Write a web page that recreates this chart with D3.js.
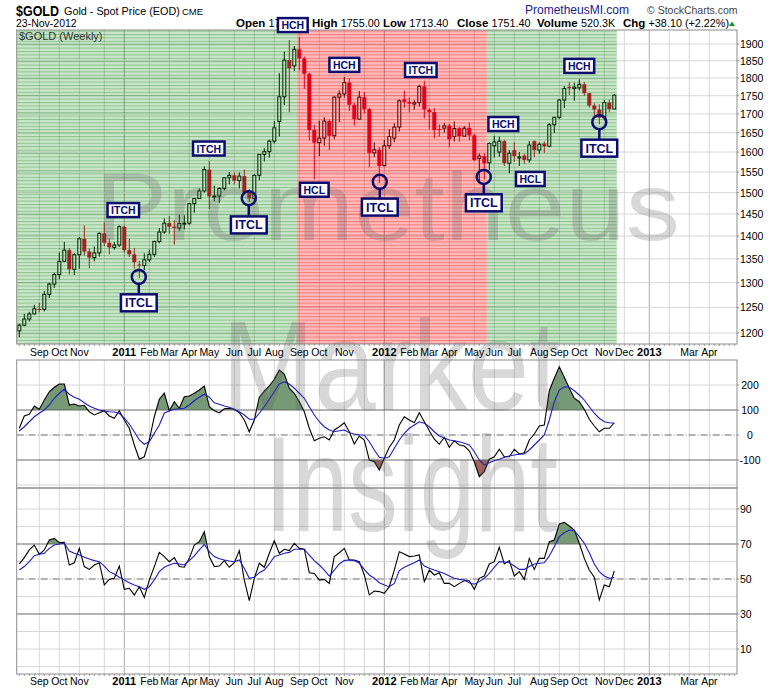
<!DOCTYPE html>
<html>
<head>
<meta charset="utf-8">
<script src="https://cdn.jsdelivr.net/npm/d3@7"></script>
<style>
  body { margin: 0; background: #fff; }
  svg { display: block; }
  text { font-family: "Liberation Sans", Arial, sans-serif; }
</style>
</head>
<body>
<svg id="chart" width="780" height="690"></svg>
<script>
// Weekly bars, first bar is the week ending Friday 13-Aug-2010
const weekStart = "2010-08-13";

const opens = [1204,1215,1227,1237,1247,1246,1276,1297,1317,1345,
  1369,1328,1359,1394,1366,1353,1363,1406,1385,1375,
  1380,1421,1369,1360,1338,1336,1348,1360,1388,1409,
  1429,1421,1418,1428,1429,1474,1486,1504,1556,1491,
  1492,1510,1536,1542,1529,1540,1500,1486,1542,1594,
  1601,1628,1680,1747,1852,1835,1884,1857,1812,1657,
  1624,1636,1681,1642,1746,1755,1787,1725,1686,1746,
  1713,1598,1606,1566,1616,1636,1665,1740,1733,1727,
  1731,1776,1711,1705,1660,1662,1669,1640,1662,1641,
  1663,1643,1584,1590,1573,1616,1600,1628,1572,1605,
  1585,1591,1580,1628,1605,1622,1615,1671,1691,1738,
  1775,1770,1772,1782,1757,1723,1712,1690,1731,1713.4];
const highs = [1218,1237,1241,1255,1259,1283,1300,1321,1364,1387,
  1374,1362,1398,1424,1373,1377,1408,1431,1394,1387,
  1424,1423,1394,1374,1346,1362,1370,1390,1418,1440,
  1445,1436,1448,1447,1476,1488,1510,1564,1577,1517,
  1513,1537,1550,1549,1549,1556,1509,1544,1595,1610,
  1632,1681,1814,1877,1912,1894,1921,1863,1815,1671,
  1682,1691,1685,1748,1765,1803,1799,1731,1763,1760,
  1717,1625,1613,1631,1660,1675,1740,1764,1745,1738,
  1781,1792,1716,1716,1672,1676,1674,1680,1665,1668,
  1677,1647,1597,1597,1625,1642,1640,1632,1605,1625,
  1600,1596,1628,1630,1625,1627,1675,1692,1741,1777,
  1788,1787,1796,1788,1758,1729,1726,1738,1739,1755];
const lows = [1192,1213,1222,1236,1240,1242,1269,1289,1307,1343,
  1317,1316,1329,1357,1330,1345,1355,1378,1360,1370,
  1376,1364,1354,1330,1309,1326,1343,1354,1384,1405,
  1405,1381,1412,1415,1425,1453,1486,1500,1462,1480,
  1476,1505,1520,1520,1510,1495,1478,1483,1530,1576,
  1586,1622,1640,1724,1705,1820,1822,1769,1630,1532,
  1590,1616,1605,1633,1678,1745,1708,1669,1684,1701,
  1562,1587,1523,1564,1608,1625,1653,1717,1705,1712,
  1720,1688,1660,1635,1640,1650,1612,1627,1627,1639,
  1630,1577,1527,1532,1555,1586,1588,1565,1547,1575,
  1565,1570,1573,1587,1596,1598,1612,1649,1687,1716,
  1752,1736,1765,1750,1717,1695,1672,1683,1705,1713.4];
const closes = [1215,1227,1237,1247,1246,1276,1297,1317,1345,1369,
  1328,1359,1394,1366,1353,1363,1406,1385,1375,1380,
  1421,1369,1360,1343,1336,1348,1360,1388,1409,1429,
  1421,1418,1428,1429,1474,1486,1504,1556,1491,1492,
  1510,1536,1542,1529,1540,1500,1486,1542,1594,1601,
  1628,1663,1747,1852,1828,1884,1857,1812,1657,1624,
  1636,1681,1642,1746,1755,1787,1725,1686,1746,1713,
  1598,1606,1565,1616,1640,1665,1736,1733,1728,1731,
  1776,1712,1705,1657,1657,1668,1633,1661,1641,1662,
  1643,1580,1590,1572,1622,1626,1628,1572,1597,1590,
  1588,1580,1618,1605,1620,1615,1671,1691,1738,1770,
  1771,1774,1782,1757,1723,1712,1690,1731,1713.3,1751.4];

// CCI (black) and its moving average (blue)
const cci = [27,76,83,116,103,140,173,191,204,204,
  120,124,116,119,93,80,89,97,76,67,
  97,60,27,-40,-97,-87,-20,73,143,167,
  97,133,107,153,156,167,180,196,113,97,
  89,105,107,103,89,60,13,60,151,176,
  196,223,260,244,187,167,133,93,27,-23,
  -13,-7,-20,20,33,49,13,-36,-4,-20,
  -100,-107,-140,-93,-49,-20,40,73,60,49,
  89,53,17,-17,-37,-9,-49,-23,-40,-44,
  -63,-107,-167,-147,-97,-87,-57,-87,-87,-57,
  -76,-71,-20,4,36,40,177,227,273,231,
  187,147,133,103,63,36,13,27,27,49];
const cciAvg = [16,33,53,73,87,100,120,147,167,183,
  163,151,143,129,116,107,100,96,93,92,
  87,67,44,13,-20,-37,-27,7,40,87,
  97,103,105,107,120,137,151,163,151,129,
  123,116,111,103,93,80,63,63,87,113,
  143,173,204,213,204,187,167,147,113,80,
  53,33,20,13,17,20,9,4,1,-1,
  -27,-60,-89,-93,-87,-53,-20,7,27,40,
  53,47,33,13,-4,-12,-20,-23,-27,-33,
  -40,-67,-100,-120,-111,-103,-97,-89,-84,-80,
  -77,-76,-60,-40,-20,0,60,133,180,193,
  191,177,160,140,113,87,67,53,49,47];

// RSI (black) and its moving average (blue)
const rsi = [58.6,62.2,66.6,69.4,64.1,66.6,72.3,73.2,70.8,71.0,
  58.0,59.3,67.5,57.1,55.5,58.0,59.3,46.6,49.8,50.4,
  57.4,44.1,44.7,40.9,45.6,39.5,49.4,57.1,65.2,62.8,
  59.9,62.2,57.1,56.7,61.8,69.4,71.3,77.0,62.8,57.1,
  57.4,60.5,56.7,59.3,66.2,49.4,37.6,50.4,59.0,56.7,
  64.7,71.9,64.7,67.0,66.2,70.4,67.5,67.0,53.6,53.2,
  49.4,49.8,47.5,62.8,65.0,67.5,60.9,60.9,59.9,52.3,
  40.9,43.1,42.8,41.8,45.6,55.1,65.6,64.3,62.8,63.1,
  63.7,48.5,55.1,52.3,53.6,47.5,47.5,45.6,47.5,49.0,
  49.0,44.1,50.4,51.7,58.6,59.9,68.1,58.6,60.5,51.7,
  54.2,49.8,61.8,55.5,61.8,61.8,71.3,72.3,81.4,82.4,
  80.3,78.0,70.4,61.8,55.1,51.0,38.0,46.6,45.6,54.6];
const rsiAvg = [55.1,57.1,59.9,63.3,64.1,64.7,67.5,69.4,70.0,70.4,
  66.0,64.7,63.7,62.4,61.4,60.5,59.9,57.4,54.2,52.9,
  51.0,49.4,47.9,46.6,45.6,44.1,45.6,49.4,54.2,56.7,
  58.0,59.0,58.6,58.0,60.5,63.2,66.6,69.8,65.6,62.8,
  61.6,60.9,60.3,59.9,60.9,56.1,50.4,51.0,53.6,55.1,
  58.6,62.8,63.7,64.7,65.2,67.0,67.0,67.0,63.7,60.5,
  58.0,55.1,51.7,55.1,58.6,60.5,60.9,60.5,59.0,55.5,
  52.3,50.4,47.9,46.6,45.6,47.5,54.8,56.7,58.0,59.3,
  60.9,57.4,56.1,55.1,54.2,53.2,51.7,50.4,49.8,49.4,
  47.9,47.0,48.5,50.4,53.2,56.7,59.9,59.7,59.3,57.4,
  55.5,55.5,57.1,58.6,59.0,59.3,63.2,68.5,74.2,76.5,
  78.0,77.6,74.2,70.4,65.0,58.6,54.2,51.7,50.4,50.9];

const priceTicks = [1200,1250,1300,1350,1400,1450,1500,1550,1600,1650,1700,1750,1800,1850,1900];
const cciTicks = [200,100,0,-100];
const rsiTicks = [90,70,50,30,10];
const monthLabels = ["Sep","Oct","Nov","","2011","Feb","Mar","Apr","May","Jun","Jul","Aug",
  "Sep","Oct","Nov","","2012","Feb","Mar","Apr","May","Jun","Jul","Aug","Sep","Oct","Nov","Dec",
  "2013","","Mar","Apr"];

// Trend zones (week index ranges)
const zoneFrom = [-0.5, 55.5, 93.5];
const zoneTo = [55.5, 93.5, 119.5];
const zoneKind = ["up", "down", "up"];

// Cycle annotations
const noteText = ["ITCH","ITCL","ITCH","ITCL","HCH","HCL","HCH","ITCL","ITCH","ITCL","HCH","HCL","HCH","ITCL"];
const noteWeek = [20.8,23.9,37.9,45.9,54.7,59.0,65.0,72.1,80.3,92.9,96.8,102.2,112.0,116.0];
const notePrice = [1459,1259,1609,1425,1958,1507,1838,1466,1823,1476,1673,1533,1835,1610];
const noteRing = [null,1312,null,1487,null,null,null,1526,null,1538,null,null,null,1678];

const svg = d3.select("#chart");
const plotL = 16.7, plotR = 737;
const mainTop = 30, mainBot = 344, cciTop = 360, cciBot = 488, rsiTop = 488, rsiBot = 674;

const x = d3.scaleLinear().domain([0, 125]).range([19.3, 644.3]);
const yP = d3.scaleLog().domain([1200, 1900]).range([333, 44]);
const yC = d3.scaleLinear().domain([-100, 100]).range([460, 410]);
const yR = d3.scaleLinear().domain([30, 70]).range([614, 544]);

const weeks = d3.range(closes.length);
const firstFriday = d3.timeParse("%Y-%m-%d")(weekStart);
const monday = i => d3.timeDay.offset(firstFriday, 7 * i - 4);
const monthIdx = d3.range(1, 143).filter(i => monday(i).getMonth() !== monday(i - 1).getMonth());

const defs = svg.append("defs");
function stripes(id, base, line) {
  const p = defs.append("pattern").attr("id", id)
    .attr("patternUnits", "userSpaceOnUse").attr("width", 8).attr("height", 3.4);
  p.append("rect").attr("width", 8).attr("height", 3.4).attr("fill", base);
  p.append("rect").attr("width", 8).attr("height", 1).attr("fill", line);
}
stripes("stripeUp", "rgba(0,135,0,0.21)", "rgba(0,110,0,0.30)");
stripes("stripeDown", "rgba(255,0,0,0.27)", "rgba(225,0,0,0.34)");

// ---- gridlines ----
const grid = svg.append("g");
[[mainTop, mainBot], [cciTop, cciBot], [rsiTop, rsiBot]].forEach(([t, b]) => {
  grid.selectAll(null).data(monthIdx).enter().append("line")
    .attr("x1", d => x(d)).attr("x2", d => x(d)).attr("y1", t).attr("y2", b)
    .attr("stroke", (d, k) => /^\d{4}$/.test(monthLabels[k]) ? "#a9a9a9" : "#d6d6d6")
    .attr("stroke-width", 1);
});
grid.selectAll(null).data(priceTicks).enter().append("line")
  .attr("x1", plotL).attr("x2", plotR).attr("y1", d => yP(d)).attr("y2", d => yP(d))
  .attr("stroke", "#d6d6d6");
grid.selectAll(null).data([200, -200]).enter().append("line")
  .attr("x1", plotL).attr("x2", plotR).attr("y1", d => yC(d)).attr("y2", d => yC(d))
  .attr("stroke", "#d6d6d6");
grid.selectAll(null).data([0,10,20,40,60,80,90]).enter().append("line")
  .attr("x1", plotL).attr("x2", plotR).attr("y1", d => yR(d)).attr("y2", d => yR(d))
  .attr("stroke", "#d6d6d6");

// ---- candles ----
const candles = svg.append("g");
const up = i => closes[i] >= opens[i];
const red = "#d9002c";
candles.selectAll(".wick").data(weeks).enter().append("line")
  .attr("x1", i => x(i)).attr("x2", i => x(i))
  .attr("y1", i => yP(highs[i])).attr("y2", i => yP(lows[i]))
  .attr("stroke", i => up(i) ? "#000" : red).attr("stroke-width", 1);
candles.selectAll(".body").data(weeks).enter().append("rect")
  .attr("x", i => up(i) ? x(i) - 1.5 : x(i) - 2)
  .attr("width", i => up(i) ? 3 : 4)
  .attr("y", i => yP(Math.max(opens[i], closes[i])))
  .attr("height", i => Math.max(1, Math.abs(yP(opens[i]) - yP(closes[i]))))
  .attr("fill", i => up(i) ? "#fff" : red)
  .attr("stroke", i => up(i) ? "#000" : "none")
  .attr("stroke-width", 1);

// ---- trend zones ----
svg.append("g").selectAll("rect").data(zoneKind).enter().append("rect")
  .attr("x", (d, k) => Math.max(plotL, x(zoneFrom[k])))
  .attr("width", (d, k) => x(zoneTo[k]) - Math.max(plotL, x(zoneFrom[k])))
  .attr("y", mainTop).attr("height", mainBot - mainTop)
  .attr("fill", d => d === "up" ? "url(#stripeUp)" : "url(#stripeDown)");

// ---- CCI panel ----
const refLines = (g, scale, dark, dash) => {
  g.selectAll(null).data(dark).enter().append("line")
    .attr("x1", plotL).attr("x2", plotR).attr("y1", d => scale(d)).attr("y2", d => scale(d))
    .attr("stroke", "#6a6a6a").attr("stroke-width", 1.2);
  g.append("line").attr("x1", plotL).attr("x2", plotR)
    .attr("y1", scale(dash)).attr("y2", scale(dash))
    .attr("stroke", "#6a6a6a").attr("stroke-width", 1).attr("stroke-dasharray", "7,2,1,2");
};
const cciG = svg.append("g");
defs.append("clipPath").attr("id", "cciHi").append("rect")
  .attr("x", plotL).attr("y", cciTop).attr("width", plotR - plotL).attr("height", yC(100) - cciTop);
defs.append("clipPath").attr("id", "cciLo").append("rect")
  .attr("x", plotL).attr("y", yC(-100)).attr("width", plotR - plotL).attr("height", cciBot - yC(-100));
cciG.append("path").datum(weeks).attr("clip-path", "url(#cciHi)")
  .attr("d", d3.area().x(i => x(i)).y0(yC(100)).y1(i => yC(cci[i])))
  .attr("fill", "#769a76");
cciG.append("path").datum(weeks).attr("clip-path", "url(#cciLo)")
  .attr("d", d3.area().x(i => x(i)).y0(yC(-100)).y1(i => yC(cci[i])))
  .attr("fill", "#a3635f");
refLines(cciG, yC, [100, -100], 0);
cciG.append("path").datum(weeks).attr("fill", "none").attr("stroke", "#000").attr("stroke-width", 1.1)
  .attr("d", d3.line().x(i => x(i)).y(i => yC(cci[i])));
cciG.append("path").datum(weeks).attr("fill", "none").attr("stroke", "#1d1dbf").attr("stroke-width", 1.1)
  .attr("d", d3.line().x(i => x(i)).y(i => yC(cciAvg[i])));

// ---- RSI panel ----
const rsiG = svg.append("g");
defs.append("clipPath").attr("id", "rsiHi").append("rect")
  .attr("x", plotL).attr("y", rsiTop).attr("width", plotR - plotL).attr("height", yR(70) - rsiTop);
rsiG.append("path").datum(weeks).attr("clip-path", "url(#rsiHi)")
  .attr("d", d3.area().x(i => x(i)).y0(yR(70)).y1(i => yR(rsi[i])))
  .attr("fill", "#769a76");
refLines(rsiG, yR, [70, 30], 50);
rsiG.append("path").datum(weeks).attr("fill", "none").attr("stroke", "#000").attr("stroke-width", 1.1)
  .attr("d", d3.line().x(i => x(i)).y(i => yR(rsi[i])));
rsiG.append("path").datum(weeks).attr("fill", "none").attr("stroke", "#1d1dbf").attr("stroke-width", 1.1)
  .attr("d", d3.line().x(i => x(i)).y(i => yR(rsiAvg[i])));

// ---- watermark ----
const wm = svg.append("g").attr("fill", "rgba(90,90,90,0.24)");
wm.append("text").attr("x", 95).attr("y", 240).attr("font-size", 96)
  .attr("textLength", 585).attr("lengthAdjust", "spacingAndGlyphs").text("Prometheus");
wm.append("text").attr("x", 222).attr("y", 410).attr("font-size", 128)
  .attr("textLength", 338).attr("lengthAdjust", "spacingAndGlyphs").text("Market");
wm.append("text").attr("x", 265).attr("y", 531).attr("font-size", 136)
  .attr("textLength", 293).attr("lengthAdjust", "spacingAndGlyphs").text("Insight");

// ---- panel frames and axes ----
const frame = svg.append("g").attr("fill", "none").attr("stroke", "#8c8c8c");
[[mainTop, mainBot], [cciTop, cciBot], [rsiTop, rsiBot]].forEach(([t, b]) => {
  frame.append("rect").attr("x", plotL).attr("y", t).attr("width", plotR - plotL).attr("height", b - t);
});
const tickW = d3.range(0, 144);
[mainBot, rsiBot].forEach(yb => {
  svg.append("g").selectAll("line").data(tickW).enter().append("line")
    .attr("x1", i => x(i)).attr("x2", i => x(i)).attr("y1", yb).attr("y2", yb + 2)
    .attr("stroke", "#999");
});

const axisText = svg.append("g").attr("font-size", 10.5).attr("fill", "#000");
axisText.selectAll(".pt").data(priceTicks).enter().append("text")
  .attr("x", 740).attr("y", d => yP(d) + 4).text(d => d);
axisText.selectAll(".ct").data(cciTicks).enter().append("text")
  .attr("x", 750).attr("y", d => yC(d) + 4).attr("text-anchor", "middle").text(d => d);
axisText.selectAll(".rt").data(rsiTicks).enter().append("text")
  .attr("x", 740).attr("y", d => yR(d) + 4).text(d => d);
[[priceTicks, yP], [cciTicks, yC], [rsiTicks, yR]].forEach(([vals, sc]) => {
  svg.append("g").selectAll("line").data(vals).enter().append("line")
    .attr("x1", plotR).attr("x2", plotR + 2).attr("y1", d => sc(d)).attr("y2", d => sc(d))
    .attr("stroke", "#8c8c8c");
});

[356, 685].forEach(yb => {
  axisText.selectAll(null).data(monthIdx).enter().append("text")
    .attr("x", d => x(d)).attr("y", yb).attr("text-anchor", "middle")
    .attr("font-weight", (d, k) => /^\d{4}$/.test(monthLabels[k]) ? "bold" : "normal")
    .attr("font-size", (d, k) => /^\d{4}$/.test(monthLabels[k]) ? 11 : 10.5)
    .text((d, k) => monthLabels[k]);
});

// ---- header ----
const hd = svg.append("g").attr("fill", "#000");
hd.append("text").attr("x", 16).attr("y", 15.5).attr("font-size", 14.5).attr("font-weight", "bold")
  .attr("textLength", 43).attr("lengthAdjust", "spacingAndGlyphs").text("$GOLD");
hd.append("text").attr("x", 64).attr("y", 15).attr("font-size", 10.8).text("Gold - Spot Price (EOD)");
hd.append("text").attr("x", 182).attr("y", 15).attr("font-size", 9.5).text("CME");
hd.append("text").attr("x", 16).attr("y", 27).attr("font-size", 10.5).text("23-Nov-2012");
hd.append("text").attr("x", 525).attr("y", 14).attr("font-size", 12).attr("fill", "#1a1a8a").text("PrometheusMI.com");
hd.append("text").attr("x", 647).attr("y", 14).attr("font-size", 10.5).attr("fill", "#444").text("\u00a9 StockCharts.com");
svg.append("text").attr("x", 19).attr("y", 40).attr("font-size", 11)
  .attr("font-family", "'DejaVu Sans', Verdana, sans-serif").attr("fill", "#333").text("$GOLD (Weekly)");

const quote = [["Open", "1713.40", 236], ["High", "1755.00", 312], ["Low", "1713.40", 383],
  ["Close", "1751.40", 457], ["Volume", "520.3K", 537], ["Chg", "+38.10 (+2.22%)", 623]];
quote.forEach(([lab, val, qx]) => {
  const t = hd.append("text").attr("x", qx).attr("y", 27).attr("font-size", 10.8);
  t.append("tspan").attr("font-weight", "bold").attr("font-size", 11.5).text(lab + " ");
  t.append("tspan").text(val);
});
hd.append("path").attr("d", "M729,26 L735,26 L732,21.5 Z").attr("fill", "#1f8f1f");

// ---- annotations (on top, the first HCH box covers part of the quote line) ----
const navy = "#0c0c6e";
const notes = svg.append("g");
noteText.forEach((t, k) => {
  const cx = x(noteWeek[k]), cy = yP(notePrice[k]);
  const big = t === "ITCL";
  const hgt = big ? 17 : 14;
  if (noteRing[k] !== null) {
    const ry = yP(noteRing[k]);
    notes.append("line").attr("x1", cx).attr("x2", cx).attr("y1", ry + 7).attr("y2", cy - hgt / 2)
      .attr("stroke", navy).attr("stroke-width", 2.5);
    notes.append("circle").attr("cx", cx).attr("cy", ry).attr("r", 7)
      .attr("fill", "none").attr("stroke", navy).attr("stroke-width", 2.5);
  }
  const g = notes.append("g");
  const rect = g.append("rect").attr("fill", "#fff").attr("stroke", navy).attr("stroke-width", 2.5);
  const txt = g.append("text").attr("x", cx).attr("y", cy + (big ? 4.5 : 4))
    .attr("text-anchor", "middle").attr("font-weight", "bold")
    .attr("font-size", big ? 12.5 : 10.5).attr("fill", navy).text(t);
  const w = txt.node().getComputedTextLength() + (big ? 8 : 7);
  rect.attr("x", cx - w / 2).attr("y", cy - hgt / 2).attr("width", w).attr("height", hgt);
});
</script>
</body>
</html>
